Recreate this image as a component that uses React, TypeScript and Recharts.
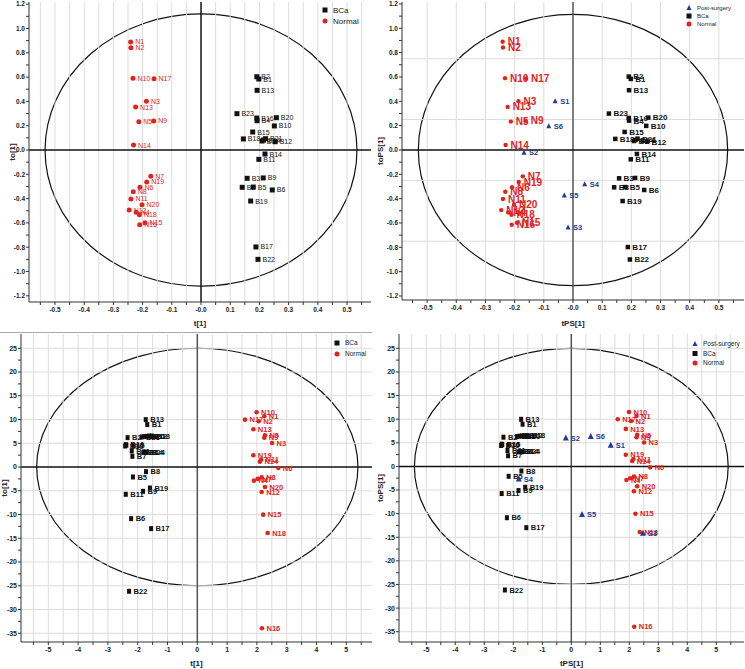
import React from "react";
import {
  ScatterChart, Scatter, XAxis, YAxis, ReferenceLine, ReferenceArea, Legend,
} from "recharts";

const FONT = "'Liberation Sans', Arial, Helvetica, sans-serif";
const BLACK = "#111111";
const RED = "#e0231d";
const BLUE = "#213a94";

// ---------- top row : t[1] / to[1] scores ----------
const bcaNames = [
  "B1", "B2", "B3", "B4", "B5", "B6", "B7", "B8", "B9", "B10", "B11", "B12",
  "B13", "B14", "B15", "B16", "B17", "B18", "B19", "B20", "B21", "B22", "B23", "B24",
];
const bcaT = [
  0.198, 0.191, 0.158, 0.192, 0.179, 0.244, 0.209, 0.141, 0.213, 0.251, 0.198, 0.254,
  0.192, 0.219, 0.177, 0.191, 0.188, 0.145, 0.170, 0.258, 0.221, 0.195, 0.123, 0.214,
];
const bcaTo = [
  0.584, 0.603, -0.233, 0.241, -0.305, -0.329, 0.074, -0.307, -0.230, 0.198, -0.077, 0.068,
  0.491, -0.033, 0.148, 0.263, -0.798, 0.091, -0.420, 0.266, 0.093, -0.900, 0.299, 0.082,
];

const normalNames = [
  "N1", "N2", "N3", "N4", "N5", "N6", "N7", "N8", "N9", "N10",
  "N11", "N12", "N13", "N14", "N15", "N16", "N17", "N18", "N19", "N20",
];
const normalT = [
  -0.241, -0.240, -0.187, -0.222, -0.213, -0.209, -0.172, -0.232, -0.162, -0.233,
  -0.240, -0.246, -0.224, -0.231, -0.192, -0.210, -0.161, -0.211, -0.186, -0.202,
];
const normalTo = [
  0.889, 0.842, 0.401, -0.513, 0.233, -0.307, -0.217, -0.343, 0.239, 0.590,
  -0.403, -0.494, 0.354, 0.041, -0.598, -0.615, 0.587, -0.532, -0.263, -0.450,
];

const postNames = ["S1", "S2", "S3", "S4", "S5", "S6"];
const postT = [-0.061, -0.168, -0.017, 0.040, -0.030, -0.083];
const postTo = [0.400, -0.022, -0.638, -0.282, -0.375, 0.195];

// ---------- bottom row : t[1] / to[1] scores ----------
const bcaNames2 = [
  "B13", "B1", "B2", "B23", "B4", "B20", "B12", "B18", "B16", "B15", "B10", "B21",
  "B3", "B14", "B24", "B7", "B8", "B5", "B19", "B9", "B11", "B6", "B17", "B22",
];
const bcaT2 = [
  -1.73, -1.68, -2.34, -1.87, -1.78, -1.70, -1.62, -1.53, -2.40, -2.38, -2.42, -2.20,
  -1.81, -1.76, -1.70, -2.18, -1.72, -2.16, -1.59, -1.82, -2.40, -2.22, -1.55, -2.29,
];
const bcaTo2 = [
  9.97, 8.93, 6.18, 6.32, 6.40, 6.46, 6.50, 6.53, 4.71, 4.60, 4.42, 3.37,
  3.09, 3.10, 3.09, 2.25, -0.98, -2.10, -4.42, -5.12, -5.75, -10.87, -12.97, -26.17,
];

const normalNames2 = [
  "N10", "N1", "N17", "N2", "N13", "N5", "N9", "N3", "N19", "N11",
  "N14", "N6", "N8", "N7", "N4", "N20", "N12", "N15", "N18", "N16",
];
const normalT2 = [
  1.99, 2.25, 1.60, 2.06, 1.88, 2.27, 2.25, 2.51, 1.88, 2.14,
  2.10, 2.72, 2.16, 2.03, 1.90, 2.27, 2.16, 2.21, 2.36, 2.17,
];
const normalTo2 = [
  11.52, 10.67, 9.97, 9.62, 7.94, 6.67, 6.18, 5.06, 2.46, 1.55,
  1.13, -0.20, -2.17, -2.50, -2.87, -4.20, -5.26, -10.03, -13.89, -33.96,
];

const postNames2 = ["S1", "S2", "S3", "S4", "S5", "S6"];
const postT2 = [1.36, -0.19, 2.47, -1.81, 0.37, 0.67];
const postTo2 = [4.43, 5.97, -14.2, -2.68, -10.2, 6.33];

// ---------- axes ----------
const topXTicks = [
  -0.55, -0.5, -0.45, -0.4, -0.35, -0.3, -0.25, -0.2, -0.15, -0.1, -0.05, 0,
  0.05, 0.1, 0.15, 0.2, 0.25, 0.3, 0.35, 0.4, 0.45, 0.5, 0.55,
];
const topYTicks = [
  -1.2, -1.1, -1.0, -0.9, -0.8, -0.7, -0.6, -0.5, -0.4, -0.3, -0.2, -0.1, 0,
  0.1, 0.2, 0.3, 0.4, 0.5, 0.6, 0.7, 0.8, 0.9, 1.0, 1.1, 1.2,
];
const botXTicks = [
  -5.5, -5, -4.5, -4, -3.5, -3, -2.5, -2, -1.5, -1, -0.5, 0,
  0.5, 1, 1.5, 2, 2.5, 3, 3.5, 4, 4.5, 5, 5.5,
];
const botYTicks = [
  -35, -32.5, -30, -27.5, -25, -22.5, -20, -17.5, -15, -12.5, -10, -7.5, -5, -2.5, 0,
  2.5, 5, 7.5, 10, 12.5, 15, 17.5, 20, 22.5, 25,
];
const p2VGrid = [-0.5, -0.4, -0.3, -0.2, -0.1, 0.1, 0.2, 0.3, 0.4, 0.5];
const p2HGrid = [-0.75, -0.25, 0.25, 0.75];
const botHGrid = [-35, -30, -25, -20, -15, -10, -5, 5, 10, 15, 20, 25];

const topEllipse = [0.534, 1.12];
const topEllipse2 = [0.53, 1.115];
const botEllipse = [5.39, 25];
const botEllipse2 = [5.41, 25];

type Pt = { name: string; x: number; y: number };
const zip = (names: string[], xs: number[], ys: number[]): Pt[] =>
  names.map((n, i) => ({ name: n, x: xs[i], y: ys[i] }));

const isStep = (v: number, step: number) => Math.abs(v / step - Math.round(v / step)) < 1e-6;
const fmtTopX = (v: number) => (isStep(v, 0.1) ? (v === 0 ? "-0.0" : v.toFixed(1)) : "");
const fmtTopY = (v: number) => (isStep(v, 0.2) ? v.toFixed(1) : "");
const fmtBotX = (v: number) => (isStep(v, 1) ? String(v) : "");
const fmtBotY = (v: number) => (isStep(v, 5) ? String(v) : "");

type Kind = "square" | "circle" | "triangle";

function marker(kind: Kind, cx: number, cy: number, color: string, w: number, h: number) {
  if (kind === "square") return <rect x={cx - w / 2} y={cy - h / 2} width={w} height={h} fill={color} />;
  if (kind === "circle") return <circle cx={cx} cy={cy} r={w / 2} fill={color} />;
  return (
    <polygon
      points={`${cx},${cy - h * 0.6} ${cx - w / 2},${cy + h * 0.4} ${cx + w / 2},${cy + h * 0.4}`}
      fill={color}
    />
  );
}

interface SeriesCfg {
  key: string;
  data: Pt[];
  kind: Kind;
  color: string;
  w: number;
  h: number;
  fs: number;
  bold: boolean;
  dx: number;
}

const makeShape = (s: SeriesCfg) => (p: any) => {
  const { cx, cy, payload } = p;
  return (
    <g>
      {marker(s.kind, cx, cy, s.color, s.w, s.h)}
      <text
        x={cx + s.dx}
        y={cy + s.fs * 0.36}
        fontSize={s.fs}
        fontWeight={s.bold ? "bold" : "normal"}
        fill={s.color}
        fontFamily={FONT}
      >
        {payload.name}
      </text>
    </g>
  );
};

interface LegendItem { label: string; kind: Kind; color: string }

interface PanelCfg {
  left: number; top: number; width: number; height: number;
  margin: { top: number; right: number; bottom: number; left: number };
  yAxisWidth: number; xAxisHeight: number;
  xDomain: [number, number]; yDomain: [number, number];
  xTicks: number[]; yTicks: number[];
  fmtX: (v: number) => string; fmtY: (v: number) => string;
  tickFs: number;
  xTitle: string; yTitle: string; xTitleOffset: number; yTitleOffset: number;
  vGrid: number[]; hGrid: number[];
  ellipse: number[];
  vZero: string;
  series: SeriesCfg[];
  legend: LegendItem[]; legendPos: { left: number; top: number }; legendFs: number; legendGap: number;
}

function Panel({ c }: { c: PanelCfg }) {
  const tick = { fontSize: c.tickFs, fontWeight: "bold" as const, fill: "#222", fontFamily: FONT };
  const title = { fontSize: 8, fontWeight: "bold" as const, fill: "#222", fontFamily: FONT };
  return (
    <div style={{ position: "absolute", left: c.left, top: c.top }}>
      <ScatterChart width={c.width} height={c.height} margin={c.margin}>
        <XAxis
          type="number" dataKey="x" domain={c.xDomain} ticks={c.xTicks} interval={0}
          allowDataOverflow tickFormatter={c.fmtX} tick={tick} tickSize={3} tickMargin={2}
          height={c.xAxisHeight} axisLine={{ stroke: "#333" }} tickLine={{ stroke: "#333" }}
          label={{ value: c.xTitle, position: "insideBottom", offset: c.xTitleOffset, style: title }}
        />
        <YAxis
          type="number" dataKey="y" domain={c.yDomain} ticks={c.yTicks} interval={0}
          allowDataOverflow tickFormatter={c.fmtY} tick={tick} tickSize={3} tickMargin={1}
          width={c.yAxisWidth} axisLine={{ stroke: "#333" }} tickLine={{ stroke: "#333" }}
          label={{
            value: c.yTitle, angle: -90, position: "insideLeft", offset: c.yTitleOffset,
            style: { ...title, textAnchor: "middle" },
          }}
        />
        {c.vGrid.map((v) => (
          <ReferenceLine key={`v${v}`} x={v} stroke="#dcdcdc" strokeWidth={1} />
        ))}
        {c.hGrid.map((v) => (
          <ReferenceLine key={`h${v}`} y={v} stroke="#dcdcdc" strokeWidth={1} />
        ))}
        <ReferenceArea
          x1={-c.ellipse[0]} x2={c.ellipse[0]} y1={-c.ellipse[1]} y2={c.ellipse[1]}
          shape={(p: any) => (
            <ellipse
              cx={p.x + p.width / 2} cy={p.y + p.height / 2}
              rx={Math.abs(p.width) / 2} ry={Math.abs(p.height) / 2}
              fill="none" stroke="#111" strokeWidth={1.2}
            />
          )}
        />
        <ReferenceLine x={0} stroke={c.vZero} strokeWidth={1.5} />
        <ReferenceLine y={0} stroke="#111" strokeWidth={1.5} />
        {c.series.map((s) => (
          <Scatter key={s.key} data={s.data} shape={makeShape(s)} isAnimationActive={false} />
        ))}
        <Legend
          layout="horizontal" verticalAlign="middle" align="center"
          wrapperStyle={{ left: c.legendPos.left, top: c.legendPos.top, width: 80, height: 40 }}
          content={() => (
            <svg width={80} height={40}>
              {c.legend.map((it, i) => {
                const cy = 5 + i * c.legendGap;
                return (
                  <g key={it.label}>
                    {marker(it.kind, 5, cy, it.color, 5, 5)}
                    <text x={13} y={cy + c.legendFs * 0.36} fontSize={c.legendFs} fill="#222" fontFamily={FONT}>
                      {it.label}
                    </text>
                  </g>
                );
              })}
            </svg>
          )}
        />
      </ScatterChart>
    </div>
  );
}

const bcaTop = zip(bcaNames, bcaT, bcaTo);
const normTop = zip(normalNames, normalT, normalTo);
const postTop = zip(postNames, postT, postTo);
const bcaBot = zip(bcaNames2, bcaT2, bcaTo2);
const normBot = zip(normalNames2, normalT2, normalTo2);
const postBot = zip(postNames2, postT2, postTo2);

const legend2: LegendItem[] = [
  { label: "BCa", kind: "square", color: BLACK },
  { label: "Normal", kind: "circle", color: RED },
];
const legend3: LegendItem[] = [
  { label: "Post-surgery", kind: "triangle", color: BLUE },
  ...legend2,
];

const panels: PanelCfg[] = [
  {
    left: 0, top: 0, width: 372, height: 334,
    margin: { top: 2, right: 1, bottom: 0, left: 0 }, yAxisWidth: 29, xAxisHeight: 32,
    xDomain: [-0.589, 0.582], yDomain: [-1.251, 1.218],
    xTicks: topXTicks, yTicks: topYTicks, fmtX: fmtTopX, fmtY: fmtTopY, tickFs: 6.5,
    xTitle: "t[1]", yTitle: "to[1]", xTitleOffset: 8, yTitleOffset: 12,
    vGrid: topXTicks.filter((v) => v !== 0), hGrid: [], ellipse: topEllipse, vZero: "#111",
    series: [
      { key: "bca", data: bcaTop, kind: "square", color: BLACK, w: 5, h: 5, fs: 7, bold: false, dx: 4.5 },
      { key: "norm", data: normTop, kind: "circle", color: RED, w: 5, h: 5, fs: 7, bold: false, dx: 4.5 },
    ],
    legend: legend2, legendPos: { left: 320, top: 5 }, legendFs: 8, legendGap: 11,
  },
  {
    left: 372, top: 0, width: 373, height: 334,
    margin: { top: 2, right: 1, bottom: 0, left: 0 }, yAxisWidth: 30, xAxisHeight: 34,
    xDomain: [-0.586, 0.586], yDomain: [-1.233, 1.216],
    xTicks: topXTicks, yTicks: topYTicks, fmtX: fmtTopX, fmtY: fmtTopY, tickFs: 6.5,
    xTitle: "tPS[1]", yTitle: "toPS[1]", xTitleOffset: 8, yTitleOffset: 8,
    vGrid: p2VGrid, hGrid: p2HGrid, ellipse: topEllipse2, vZero: "#555",
    series: [
      { key: "bca", data: bcaTop, kind: "square", color: BLACK, w: 4.5, h: 4.5, fs: 8, bold: true, dx: 4.5 },
      { key: "norm", data: normTop, kind: "circle", color: RED, w: 4.4, h: 4.4, fs: 10, bold: true, dx: 5 },
      { key: "post", data: postTop, kind: "triangle", color: BLUE, w: 5, h: 5, fs: 7.5, bold: true, dx: 5 },
    ],
    legend: legend3, legendPos: { left: 312, top: 3 }, legendFs: 6, legendGap: 8,
  },
  {
    left: 0, top: 334, width: 372, height: 335,
    margin: { top: 0, right: 0, bottom: 0, left: 0 }, yAxisWidth: 21, xAxisHeight: 27,
    xDomain: [-5.916, 5.862], yDomain: [-36.84, 28.0],
    xTicks: botXTicks, yTicks: botYTicks, fmtX: fmtBotX, fmtY: fmtBotY, tickFs: 7,
    xTitle: "t[1]", yTitle: "to[1]", xTitleOffset: 3, yTitleOffset: 4,
    vGrid: botXTicks.filter((v) => v !== 0), hGrid: botHGrid, ellipse: botEllipse, vZero: "#555",
    series: [
      { key: "bca", data: bcaBot, kind: "square", color: BLACK, w: 4, h: 5, fs: 7.5, bold: true, dx: 4.5 },
      { key: "norm", data: normBot, kind: "circle", color: RED, w: 4.6, h: 4.6, fs: 7.5, bold: true, dx: 4.5 },
    ],
    legend: legend2, legendPos: { left: 332, top: 4 }, legendFs: 6.5, legendGap: 11,
  },
  {
    left: 372, top: 334, width: 373, height: 335,
    margin: { top: 0, right: 1, bottom: 0, left: 0 }, yAxisWidth: 27, xAxisHeight: 27,
    xDomain: [-5.941, 5.955], yDomain: [-37.18, 28.03],
    xTicks: botXTicks, yTicks: botYTicks, fmtX: fmtBotX, fmtY: fmtBotY, tickFs: 7,
    xTitle: "tPS[1]", yTitle: "toPS[1]", xTitleOffset: 3, yTitleOffset: 8,
    vGrid: botXTicks.filter((v) => v !== 0), hGrid: botHGrid, ellipse: botEllipse2, vZero: "#555",
    series: [
      { key: "bca", data: bcaBot, kind: "square", color: BLACK, w: 4, h: 5, fs: 7.5, bold: true, dx: 4.5 },
      { key: "norm", data: normBot, kind: "circle", color: RED, w: 4.6, h: 4.6, fs: 7.5, bold: true, dx: 4.5 },
      { key: "post", data: postBot, kind: "triangle", color: BLUE, w: 6, h: 6, fs: 7.5, bold: true, dx: 5 },
    ],
    legend: legend3, legendPos: { left: 318, top: 5 }, legendFs: 6.5, legendGap: 9.5,
  },
];

export default function App() {
  return (
    <div style={{ position: "absolute", left: 0, top: 0, width: 745, height: 669, background: "#fff" }}>
      {panels.map((c, i) => (
        <Panel key={i} c={c} />
      ))}
      <div style={{ position: "absolute", left: 0, top: 332, width: 372, height: 1, background: "#aaa" }} />
    </div>
  );
}
